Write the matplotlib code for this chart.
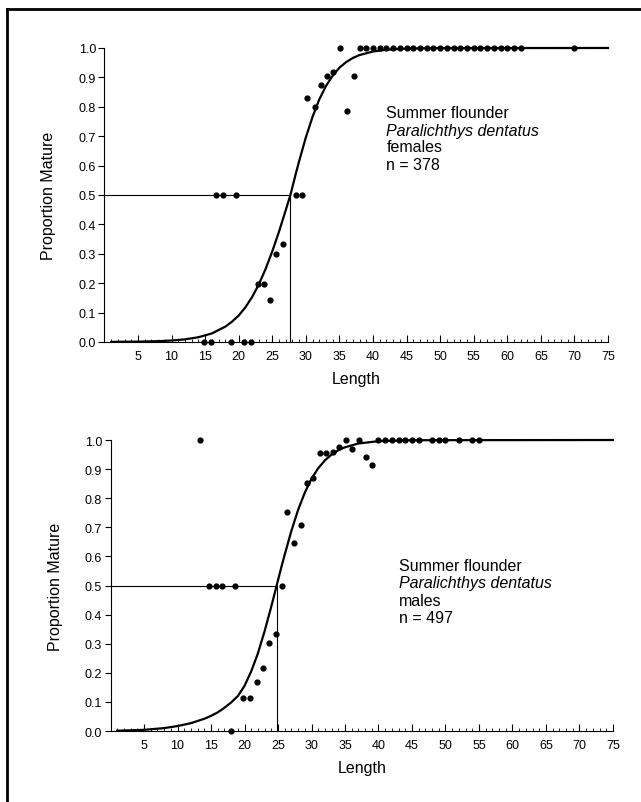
import matplotlib.pyplot as plt
from matplotlib.lines import Line2D
from matplotlib.ticker import MultipleLocator

plt.rcParams['font.family'] = ['Liberation Sans', 'DejaVu Sans']

# ---- females (top panel) ----
fem_len = [14.9, 15.9, 18.9, 20.8, 21.9,
           16.6, 17.6, 19.6,
           22.8, 23.7, 24.7, 25.6, 26.6, 28.6, 29.5,
           30.2, 31.3, 32.2, 33.1, 34.1, 35.1, 36.2, 37.1,
           38, 39, 40, 41, 42, 43, 44, 45, 46, 47, 48, 49, 50,
           51, 52, 53, 54, 55, 56, 57, 58, 59, 60, 61, 62, 70]
fem_prop = [0.0, 0.0, 0.0, 0.0, 0.0,
            0.5, 0.5, 0.5,
            0.197, 0.197, 0.143, 0.299, 0.332, 0.5, 0.5,
            0.83, 0.80, 0.873, 0.903, 0.92, 1.0, 0.787, 0.903,
            1.0, 1.0, 1.0, 1.0, 1.0, 1.0, 1.0, 1.0, 1.0, 1.0, 1.0, 1.0, 1.0,
            1.0, 1.0, 1.0, 1.0, 1.0, 1.0, 1.0, 1.0, 1.0, 1.0, 1.0, 1.0, 1.0]
# fitted ogive
fem_curve_x = [1, 5, 8, 10, 12, 14, 16, 18, 19, 20, 21, 22, 23, 24, 25, 26, 27,
               27.7, 28.5, 29, 30, 31, 32, 33, 34, 35, 36, 37, 38, 40, 42, 45,
               50, 75]
fem_curve_y = [0.0003, 0.0011, 0.0027, 0.0049, 0.0089, 0.0161, 0.029, 0.052,
               0.069, 0.090, 0.118, 0.153, 0.196, 0.248, 0.308, 0.375, 0.448,
               0.5, 0.572, 0.615, 0.696, 0.766, 0.825, 0.871, 0.906, 0.933,
               0.952, 0.966, 0.976, 0.988, 0.994, 0.998, 0.9997, 1.0]
fem_l50 = 27.7

# ---- males (bottom panel) ----
male_len = [13.4, 14.7, 15.7, 16.6, 18.6, 18.0, 19.8, 20.8, 21.8, 22.8, 23.7,
            24.7, 25.6, 26.4, 27.4, 28.4, 29.3, 30.2, 31.2, 32.2, 33.2, 34.1,
            35.1, 36.1, 37.1, 38.1, 39.1, 40.0, 41.0,
            42, 43, 44, 45, 46, 48, 49, 50, 52, 54, 55]
male_prop = [1.0, 0.5, 0.5, 0.5, 0.5, 0.0, 0.113, 0.113, 0.169, 0.216, 0.301,
             0.334, 0.50, 0.752, 0.645, 0.709, 0.852, 0.868, 0.955, 0.957,
             0.96, 0.977, 1.0, 0.97, 1.0, 0.94, 0.913, 1.0, 1.0,
             1.0, 1.0, 1.0, 1.0, 1.0, 1.0, 1.0, 1.0, 1.0, 1.0, 1.0]
male_curve_x = [1, 5, 8, 10, 12, 14, 15, 16, 17, 18, 19, 20, 21, 22, 23, 24,
                24.8, 25.5, 26, 27, 28, 29, 30, 31, 32, 33, 34, 35, 37, 40, 45,
                75]
male_curve_y = [0.001, 0.004, 0.010, 0.017, 0.027, 0.042, 0.052, 0.064, 0.080,
                0.098, 0.120, 0.155, 0.205, 0.267, 0.343, 0.428, 0.5, 0.563,
                0.606, 0.688, 0.760, 0.819, 0.867, 0.903, 0.930, 0.950, 0.965,
                0.975, 0.988, 0.996, 0.9993, 1.0]
male_l50 = 24.8

fig = plt.figure(figsize=(6.41, 8.03), dpi=100)


def draw_panel(ax, lengths, props, cx, cy, l50):
    ax.plot(cx, cy, color='black', lw=1.6, clip_on=False, zorder=3)
    ax.plot([0, l50], [0.5, 0.5], color='black', lw=0.8, clip_on=False)
    ax.plot([l50, l50], [0, 0.5], color='black', lw=0.8, clip_on=False)
    ax.scatter(lengths, props, s=12, color='black', clip_on=False, zorder=4)

    ax.set_xlim(0, 75)
    ax.set_ylim(0, 1.0)
    ax.spines['top'].set_visible(False)
    ax.spines['right'].set_visible(False)
    ax.spines['left'].set_linewidth(0.8)
    ax.spines['bottom'].set_linewidth(0.8)

    ax.set_xticks(range(5, 80, 5))
    ax.xaxis.set_minor_locator(MultipleLocator(1))
    ax.set_yticks([i / 10 for i in range(11)])
    ax.set_yticklabels(['%.1f' % (i / 10) for i in range(11)])
    ax.tick_params(axis='x', which='major', direction='in', length=5,
                   width=0.8, labelsize=9, pad=6)
    ax.tick_params(axis='x', which='minor', direction='in', length=2.5,
                   width=0.6)
    ax.tick_params(axis='y', direction='out', length=4, width=0.8,
                   labelsize=9, pad=2)

    ax.set_xlabel('Length', fontsize=11.5, labelpad=6)
    ax.set_ylabel('Proportion Mature', fontsize=11.5, labelpad=16)


ax1 = fig.add_axes([0.1629, 0.5729, 0.7856, 0.3661])
draw_panel(ax1, fem_len, fem_prop, fem_curve_x, fem_curve_y, fem_l50)
ax1.text(42, 0.78, 'Summer flounder', fontsize=11.5, va='center')
ax1.text(42, 0.72, 'Paralichthys dentatus', fontsize=11.5, va='center',
         style='italic')
ax1.text(42, 0.665, 'females', fontsize=11.5, va='center')
ax1.text(42, 0.605, 'n = 378', fontsize=11.5, va='center')

ax2 = fig.add_axes([0.1724, 0.0884, 0.7839, 0.3624])
draw_panel(ax2, male_len, male_prop, male_curve_x, male_curve_y, male_l50)
ax2.text(43, 0.57, 'Summer flounder', fontsize=11.5, va='center')
ax2.text(43, 0.51, 'Paralichthys dentatus', fontsize=11.5, va='center',
         style='italic')
ax2.text(43, 0.45, 'males', fontsize=11.5, va='center')
ax2.text(43, 0.39, 'n = 497', fontsize=11.5, va='center')

# frame of the scanned page
fig.add_artist(Line2D([0.011, 1.0], [0.9875, 0.9875], color='black', lw=2,
                      transform=fig.transFigure))
fig.add_artist(Line2D([0.011, 0.011], [0.0, 0.9875], color='black', lw=2,
                      transform=fig.transFigure))

fig.savefig('out.png', dpi=100)
